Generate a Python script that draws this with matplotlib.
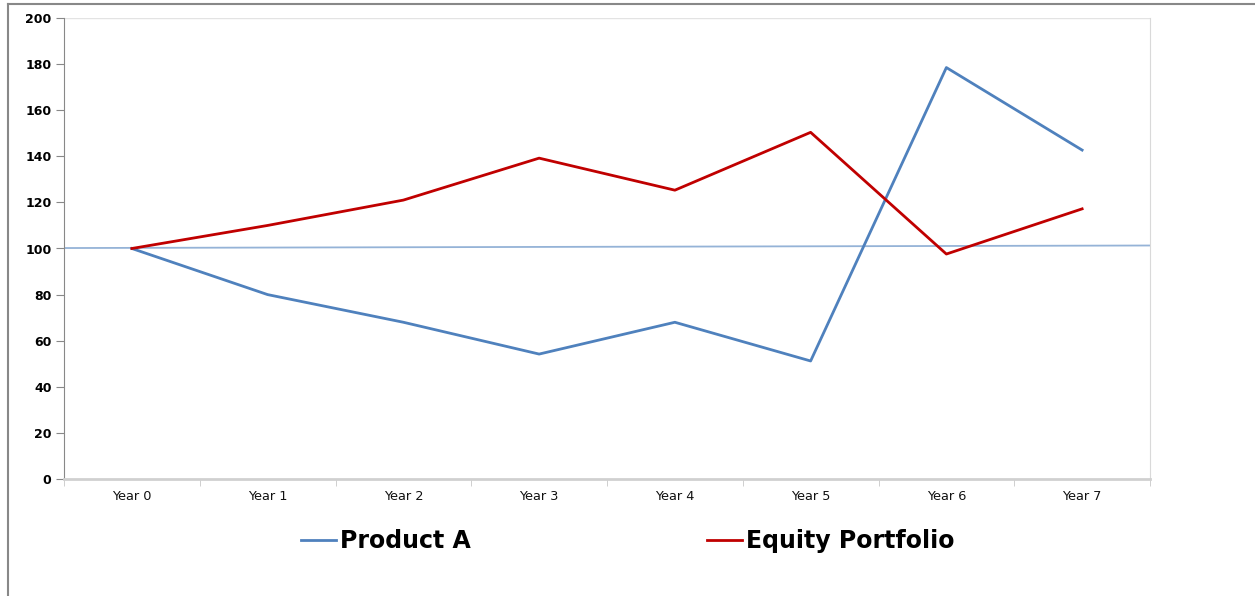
import matplotlib.pyplot as plt
from matplotlib.lines import Line2D

years = ['Year 0', 'Year 1', 'Year 2', 'Year 3', 'Year 4', 'Year 5', 'Year 6', 'Year 7']
product_a = [100, 80, 68, 54.2, 68, 51.2, 178.5, 142.7]
equity = [100, 110, 121, 139.2, 125.3, 150.4, 97.6, 117.2]
# thin reference line running across the whole plot area (start, end)
reference = [100.2, 101.3]

fig = plt.figure(figsize=(12.55, 5.96), dpi=100)
ax = fig.add_axes([64 / 1255, 1 - 479 / 596, (1150 - 64) / 1255, (479 - 18) / 596])

x = list(range(len(years)))
ax.plot([-0.5, len(years) - 0.5], reference, color='#95b3d7', lw=1.3, zorder=2)
ax.plot(x, product_a, color='#4f81bd', lw=2.0, label='Product A', zorder=3)
ax.plot(x, equity, color='#c00000', lw=2.0, label='Equity Portfolio', zorder=3)

ax.set_xlim(-0.5, len(years) - 0.5)
ax.set_ylim(0, 200)
ax.set_yticks(range(0, 201, 20))
ax.set_yticklabels([str(v) for v in range(0, 201, 20)], fontsize=9, fontweight='bold',
                   family='DejaVu Sans')
ax.tick_params(axis='y', direction='out', length=6, color='#888888', pad=3)

ax.set_xticks(x)
ax.set_xticklabels(years, fontsize=9.3, family='DejaVu Sans', color='#111111')
ax.set_xticks([i - 0.5 for i in range(len(years) + 1)], minor=True)
ax.tick_params(axis='x', which='major', length=0, pad=8)
ax.tick_params(axis='x', which='minor', direction='out', length=5, color='#c8c8c8')

ax.axhline(200, color='#e3e3e3', lw=1)
ax.spines['top'].set_visible(False)
ax.spines['right'].set_color('#d9d9d9')
ax.spines['left'].set_color('#888888')
ax.spines['bottom'].set_color('#d0d0d0')
ax.spines['bottom'].set_linewidth(2)

fig.legend(loc='center', bbox_to_anchor=(0.5, 1 - 541 / 596), ncol=2, frameon=False,
           prop={'family': 'DejaVu Sans', 'weight': 'bold', 'size': 17},
           handlelength=1.5, handletextpad=0.15, columnspacing=10)

# outer chart border (only the top and left edges are visible)
fig.add_artist(Line2D([8 / 1255, 1], [1 - 4 / 596, 1 - 4 / 596], color='#888888', lw=1.5))
fig.add_artist(Line2D([8 / 1255, 8 / 1255], [0, 1 - 4 / 596], color='#888888', lw=1.5))

plt.savefig('out.png', dpi=100)
